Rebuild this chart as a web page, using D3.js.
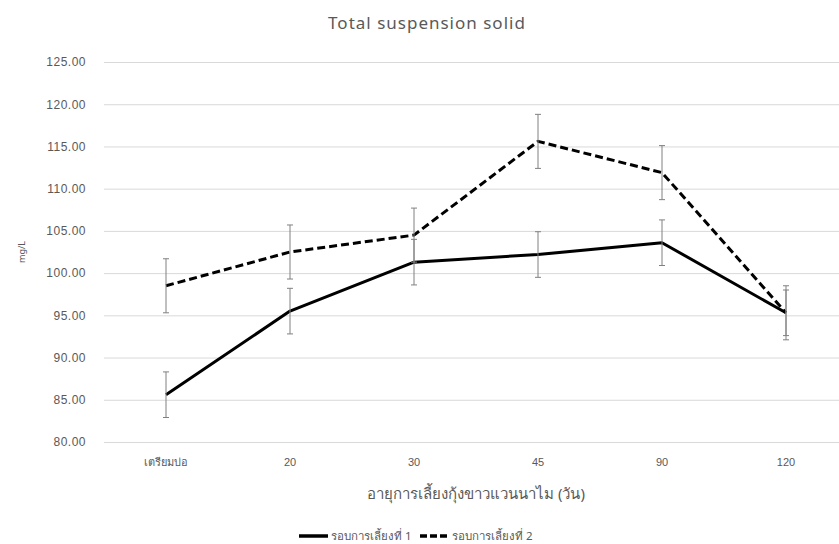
<!DOCTYPE html>
<html>
<head>
<meta charset="utf-8">
<script src="https://cdn.jsdelivr.net/npm/d3@7"></script>
<style>
  html, body { margin: 0; padding: 0; background: #fff; }
  svg { display: block; font-family: "Noto Sans", "DejaVu Sans", sans-serif; }
</style>
</head>
<body>
<svg id="chart" width="839" height="544"></svg>
<script>
// Sampling stages (days of culture)
const categories = ["เตรียมบ่อ", "20", "30", "45", "90", "120"];
// Total suspended solids, mg/L
const round1 = [85.6, 95.5, 101.3, 102.2, 103.6, 95.3];
const round2 = [98.5, 102.5, 104.5, 115.6, 111.9, 95.3];
// Error bar half-widths, mg/L
const round1Err = [2.7, 2.7, 2.7, 2.7, 2.7, 2.7];
const round2Err = [3.2, 3.2, 3.2, 3.2, 3.2, 3.2];
const seriesNames = ["รอบการเลี้ยงที่ 1", "รอบการเลี้ยงที่ 2"];
const yTicks = [80, 85, 90, 95, 100, 105, 110, 115, 120, 125];

const svg = d3.select("#chart");

const x = d3.scaleBand().domain(categories).range([104, 848]);
const y = d3.scaleLinear().domain([80, 125]).range([442, 62]);
const cx = c => x(c) + x.bandwidth() / 2;

// Gridlines and y tick labels
const yAxis = d3.axisLeft(y).tickValues(yTicks).tickFormat(d3.format(".2f"))
  .tickSize(-(848 - 104)).tickPadding(18);
const gy = svg.append("g").attr("transform", "translate(104,0)").call(yAxis);
gy.select(".domain").remove();
gy.selectAll(".tick line").attr("stroke", "#d9d9d9").attr("stroke-width", 1);
gy.selectAll(".tick text").attr("fill", "#595959")
  .style("font-size", "12px").style("letter-spacing", "0.5px");

// Category labels
const xAxis = d3.axisBottom(x).tickSize(0).tickPadding(16);
const gx = svg.append("g").attr("transform", "translate(0,442)").call(xAxis);
gx.select(".domain").remove();
gx.selectAll(".tick text").attr("fill", "#595959").style("font-size", "11px");

// Title and axis titles
svg.append("text").attr("x", 427).attr("y", 29).attr("text-anchor", "middle")
  .attr("fill", "#595959").style("font-size", "17px").style("letter-spacing", "1px")
  .text("Total suspension solid");
svg.append("text").attr("x", 476).attr("y", 499).attr("text-anchor", "middle")
  .attr("fill", "#595959").style("font-size", "15px").text("อายุการเลี้ยงกุ้งขาวแวนนาไม (วัน)");
svg.append("text").attr("transform", "translate(25,252) rotate(-90)").attr("text-anchor", "middle")
  .attr("fill", "#595959").style("font-size", "9px").text("mg/L");

const series = [
  { name: seriesNames[0], values: round1, err: round1Err, dash: null },
  { name: seriesNames[1], values: round2, err: round2Err, dash: "8,4" }
];

const line = d3.line().x((d, i) => cx(categories[i])).y(d => y(d));

series.forEach(s => {
  svg.append("path").datum(s.values)
    .attr("d", line).attr("fill", "none").attr("stroke", "#000")
    .attr("stroke-width", 3).attr("stroke-linejoin", "round")
    .attr("stroke-dasharray", s.dash);
});

// Error bars drawn over the lines
series.forEach(s => {
  const g = svg.append("g").attr("stroke", "#808080").attr("stroke-width", 1);
  s.values.forEach((v, i) => {
    const px = cx(categories[i]);
    const top = y(v + s.err[i]), bot = y(v - s.err[i]);
    g.append("line").attr("x1", px).attr("x2", px).attr("y1", top).attr("y2", bot);
    g.append("line").attr("x1", px - 3).attr("x2", px + 3).attr("y1", top).attr("y2", top);
    g.append("line").attr("x1", px - 3).attr("x2", px + 3).attr("y1", bot).attr("y2", bot);
  });
});

// Legend
const legend = svg.append("g");
const legendItems = [
  { x: 299, dash: null, name: seriesNames[0] },
  { x: 420, dash: "7,3", name: seriesNames[1] }
];
legendItems.forEach(it => {
  legend.append("line").attr("x1", it.x).attr("x2", it.x + 29)
    .attr("y1", 536).attr("y2", 536).attr("stroke", "#000").attr("stroke-width", 3.5)
    .attr("stroke-dasharray", it.dash);
  legend.append("text").attr("x", it.x + 32).attr("y", 540)
    .attr("fill", "#595959").style("font-size", "11.5px").text(it.name);
});
</script>
</body>
</html>
